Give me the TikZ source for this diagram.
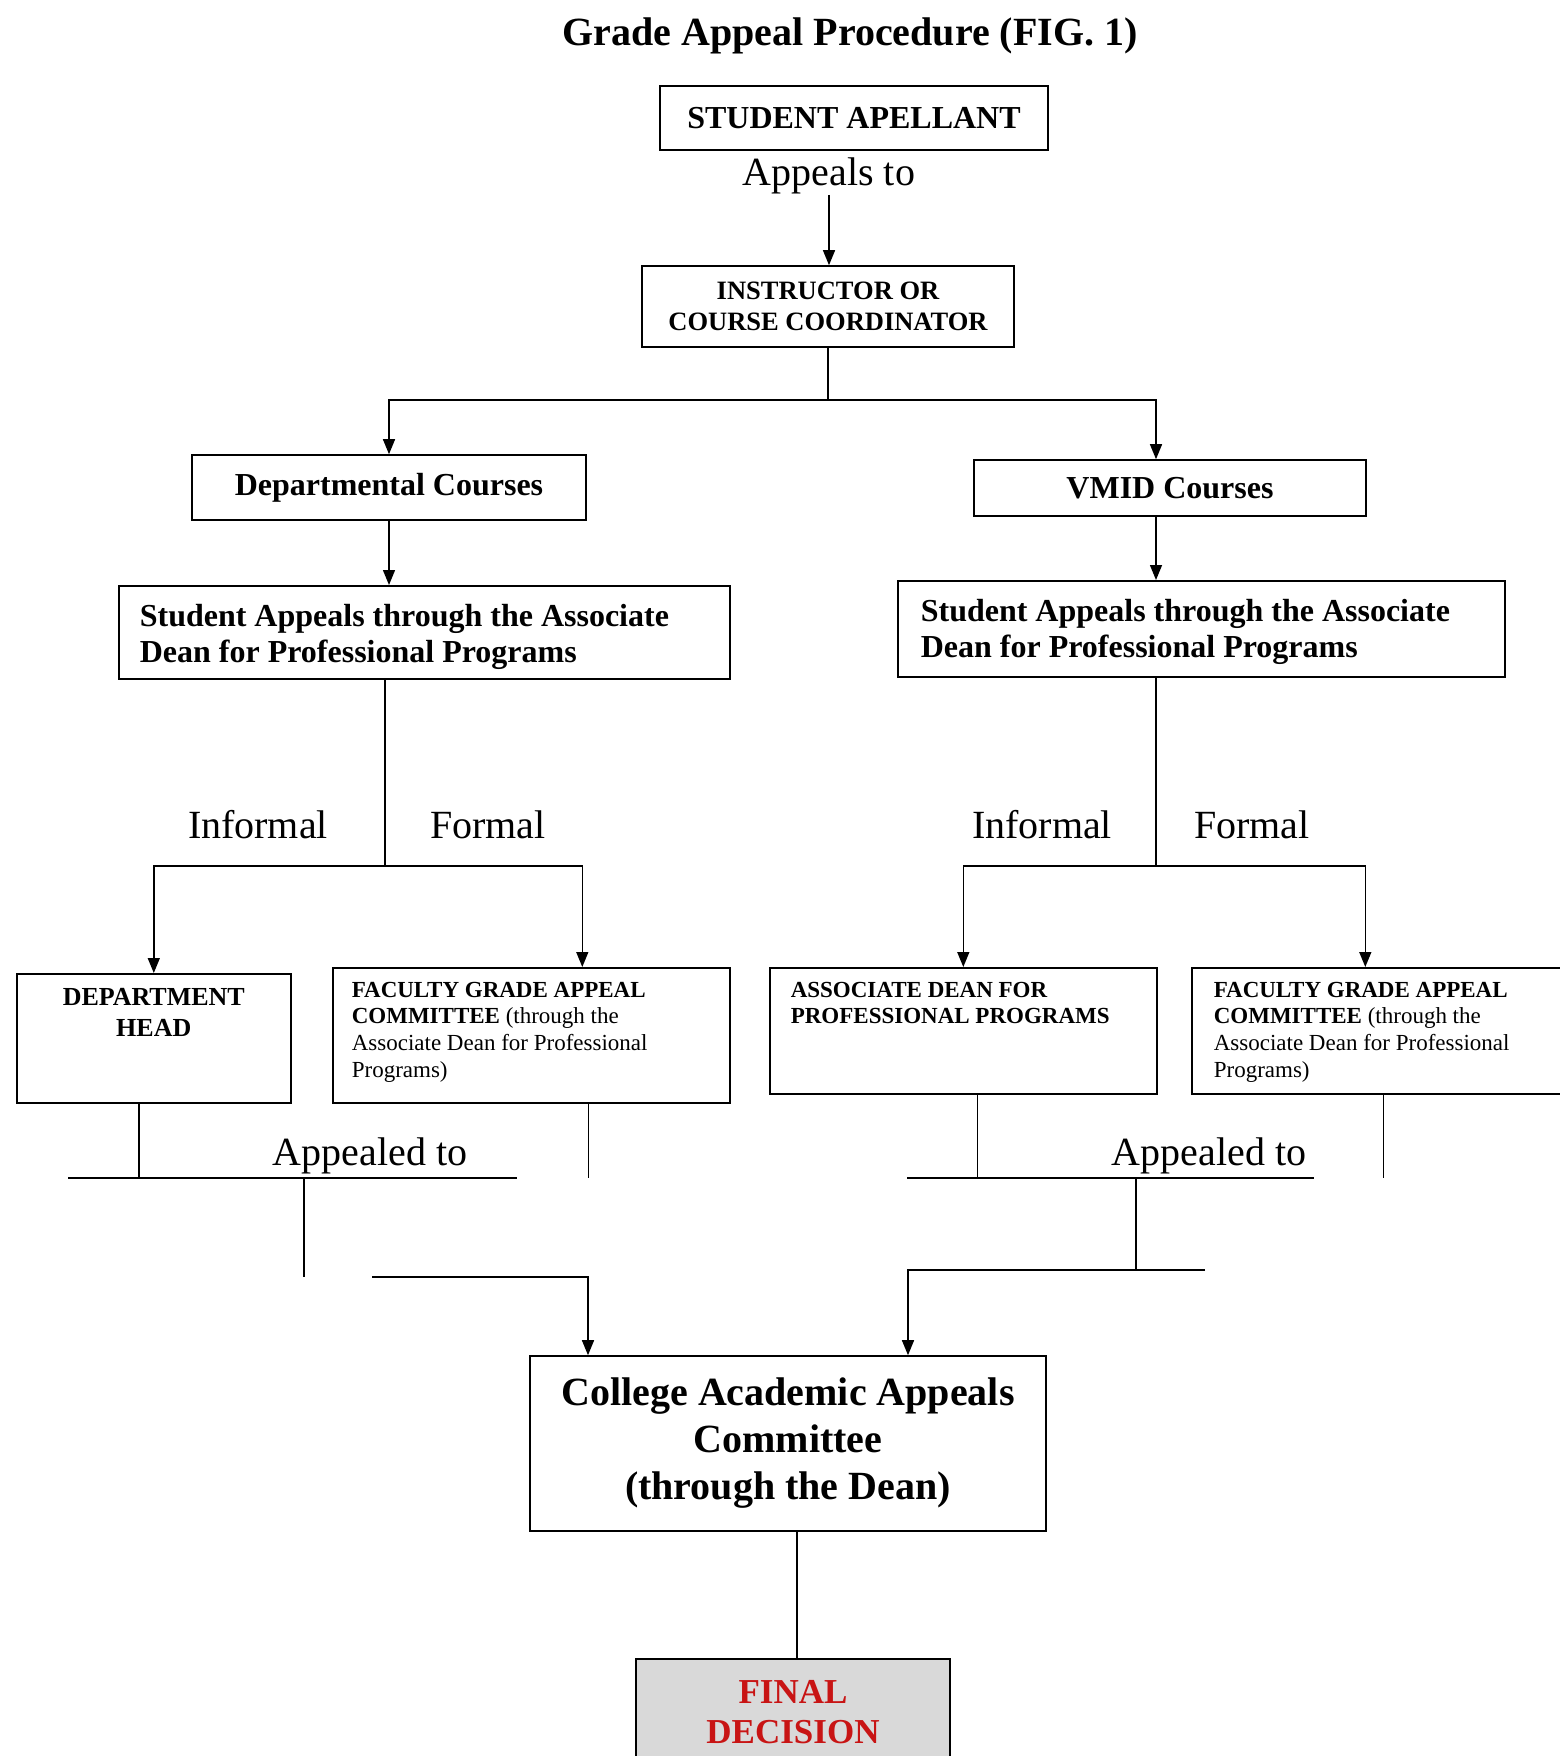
\documentclass[tikz,border=0pt]{standalone}
\usepackage{fontspec}
\setmainfont{Liberation Serif}
\usetikzlibrary{arrows.meta}
\definecolor{finalred}{RGB}{200,20,20}
\definecolor{finalgray}{RGB}{217,217,217}
% text box of fixed size, text set from the top
\newcommand{\toptext}[4]{\parbox[c][#2][t]{#1}{\vspace*{#3}#4}}

\begin{document}
\begin{tikzpicture}[x=1pt, y=-1pt, line width=1.4pt,
          box/.style = {draw, line width=1.6pt, inner sep=0pt},
          arr/.style = {-{Triangle[length=15pt, width=12pt]}},
          lbl/.style = {inner sep=0pt, font=\fontsize{40}{46}\selectfont}]
        \useasboundingbox (0,0) rectangle (1560,1756);
        \clip (0,0) rectangle (1560,1756);

        \node[inner sep=0pt, font=\bfseries\fontsize{40}{46}\selectfont] (title) at (850,36) {Grade Appeal Procedure (FIG. 1)};

        % top of the chart
        \node[box, minimum width=388pt, minimum height=64pt, font=\bfseries\fontsize{32}{36}\selectfont] (sa) at (854,118) {STUDENT APELLANT};
        \node[lbl] (ap) at (829,176) {Appeals to};
        \node[box, minimum width=372pt, minimum height=81pt, align=center, font=\bfseries\fontsize{26.5}{31}\selectfont] (ic) at (828,306.5) {INSTRUCTOR OR\\COURSE COORDINATOR};
        \node[box, minimum width=394pt, minimum height=65pt, font=\bfseries\fontsize{32}{36}\selectfont] (dc) at (389,487.5) {Departmental Courses};
        \node[box, minimum width=392pt, minimum height=56pt, font=\bfseries\fontsize{32}{36}\selectfont] (vc) at (1170,488) {VMID Courses};
        \node[box, anchor=north west, inner xsep=21pt, font=\bfseries\fontsize{32}{36}\selectfont] (ls) at (118,585) {\toptext{569pt}{93pt}{18pt}{\raggedright Student Appeals through the Associate\\Dean for Professional Programs}};
        \node[box, anchor=north west, inner xsep=23pt, font=\bfseries\fontsize{32}{36}\selectfont] (rs) at (897,580) {\toptext{561pt}{96pt}{18pt}{\raggedright Student Appeals through the Associate\\Dean for Professional Programs}};

        \foreach \x/\t in {258/Informal, 488/Formal, 1042/Informal, 1252/Formal}
                 {
                   \node[lbl] (way\x) at (\x,825) {\t};
                 }

        % second level
        \node[box, anchor=north west, font=\bfseries\fontsize{26}{31}\selectfont] (dh) at (16,973) {\toptext{274pt}{129pt}{15pt}{\centering DEPARTMENT\\HEAD}};
        \node[box, anchor=north west, inner xsep=19pt, font=\fontsize{23}{26.7}\selectfont] (fl) at (332,967) {\toptext{359pt}{135pt}{14pt}{\raggedright\textbf{FACULTY GRADE APPEAL}\\\textbf{COMMITTEE} (through the\\Associate Dean for Professional\\Programs)}};
        \node[box, anchor=north west, inner xsep=21pt, font=\bfseries\fontsize{23}{26.7}\selectfont] (ad) at (769,967) {\toptext{345pt}{126pt}{14pt}{\raggedright ASSOCIATE DEAN FOR\\PROFESSIONAL PROGRAMS}};
        \node[box, anchor=north west, inner xsep=22pt, font=\fontsize{23}{26.7}\selectfont] (fr) at (1191,967) {\toptext{355pt}{126pt}{14pt}{\raggedright\textbf{FACULTY GRADE APPEAL}\\\textbf{COMMITTEE} (through the\\Associate Dean for Professional\\Programs)}};
        \node[lbl] (lap) at (370,1156) {Appealed to};
        \node[lbl] (rap) at (1209,1156) {Appealed to};

        % bottom
        \node[box, minimum width=516pt, minimum height=175pt, align=center, font=\bfseries\fontsize{40}{47}\selectfont] (caac) at (788,1443.5) {College Academic Appeals\\Committee\\(through the Dean)};
        \node[box, anchor=north, fill=finalgray, text=finalred, minimum width=314pt, minimum height=106pt, align=center, font=\bfseries\fontsize{35}{40}\selectfont] (fd) at (793,1658) {FINAL\\DECISION};

        \coordinate (ts) at (828,400);
        \coordinate (lf) at (385,866);
        \coordinate (rf) at (1156,866);
        \coordinate (lb1) at (68,1178);
        \coordinate (lb2) at (517,1178);
        \coordinate (lm1) at (304,1178);
        \coordinate (lm2) at (304,1277);
        \coordinate (lc) at (372,1277);
        \coordinate (rb1) at (907,1178);
        \coordinate (rb2) at (1314,1178);
        \coordinate (rm1) at (1136,1178);
        \coordinate (rm2) at (1136,1270);
        \coordinate (rc) at (1205,1270);

        \draw[arr] (ap.south) -- (ap.south |- ic.north);
        \draw (ic) -- (ts);
        \draw[arr] (ts) -| (dc.north);
        \draw[arr] (ts) -| (rf |- vc.north);
        \draw[arr] (dc) -- (dc.south |- ls.north);
        \draw[arr] (rf |- vc.south) -- (rf |- rs.north);
        \draw (lf |- ls.south) -- (lf);
        \draw (rf |- rs.south) -- (rf);
        \draw[arr] (lf) -| (dh.north);
        \draw[arr] (lf) -| ([xshift=51pt]fl.north);
        \draw[arr] (rf) -| (ad.north);
        \draw[arr] (rf) -| ([xshift=-26pt]fr.north);

        \draw (lb1) -- (lb2);
        \draw ([xshift=-15pt]dh.south) -- ([xshift=-15pt]dh.south |- lb1);
        \draw ([xshift=57pt]fl.south) -- ([xshift=57pt]fl.south |- lb1);
        \draw (lm1) -- (lm2);
        \draw[arr] (lc) -| ([xshift=-200pt]caac.north);
        \draw (rb1) -- (rb2);
        \draw ([xshift=14pt]ad.south) -- ([xshift=14pt]ad.south |- rb1);
        \draw ([xshift=-8pt]fr.south) -- ([xshift=-8pt]fr.south |- rb1);
        \draw (rm1) -- (rm2);
        \draw[arr] (rc) -| ([xshift=120pt]caac.north);
        \draw ([xshift=9pt]caac.south) -- ([xshift=9pt]caac.south |- fd.north);
      \end{tikzpicture}
\end{document}
